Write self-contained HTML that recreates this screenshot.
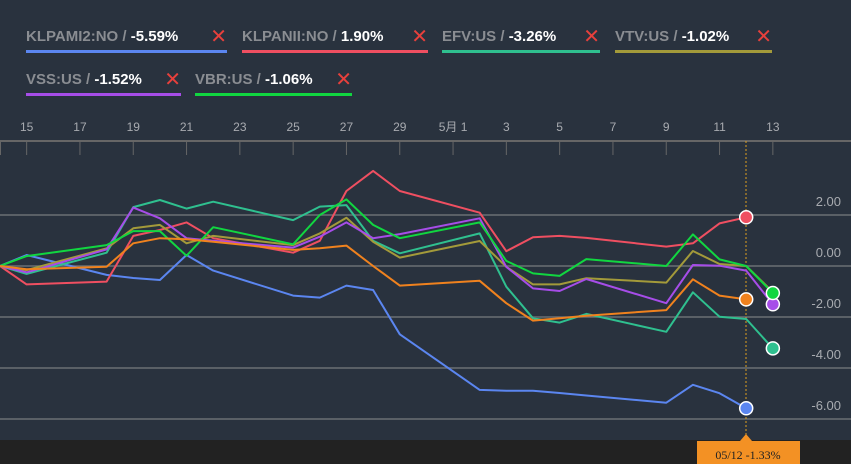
<!DOCTYPE html>
<html><head><meta charset="utf-8"><style>
body{margin:0;width:851px;height:464px;background:#29323e;overflow:hidden;font-family:"Liberation Sans",sans-serif;position:relative}
.lg{position:absolute;height:24px;font-weight:bold;font-size:15px;color:#8a8d92;white-space:nowrap;line-height:22px}
.lg b{color:#fff}
.lg .x{position:absolute;right:0;top:0;color:#e8403c;font-weight:normal;font-size:20px}
.lg .u{position:absolute;left:0;right:0;top:24px;height:3px}
</style></head><body>
<div class="lg" style="left:26px;top:26px;width:201px">KLPAMI2:NO / <b>-5.59%</b><span class="x">✕</span><div class="u" style="background:#5b86f0"></div></div>
<div class="lg" style="left:242px;top:26px;width:186px">KLPANII:NO / <b>1.90%</b><span class="x">✕</span><div class="u" style="background:#ef4f61"></div></div>
<div class="lg" style="left:442px;top:26px;width:158px">EFV:US / <b>-3.26%</b><span class="x">✕</span><div class="u" style="background:#2fc08f"></div></div>
<div class="lg" style="left:615px;top:26px;width:157px">VTV:US / <b>-1.02%</b><span class="x">✕</span><div class="u" style="background:#a39a3a"></div></div>
<div class="lg" style="left:26px;top:69px;width:155px">VSS:US / <b>-1.52%</b><span class="x">✕</span><div class="u" style="background:#a64de8"></div></div>
<div class="lg" style="left:195px;top:69px;width:157px">VBR:US / <b>-1.06%</b><span class="x">✕</span><div class="u" style="background:#11d640"></div></div>
<svg id="chart" width="851" height="464" style="position:absolute;left:0;top:0"></svg>
<script>
const days=[0,1,4,5,6,7,8,11,12,13,14,15,18,19,20,21,22,25,26,27,28,29];
const tickDays=[1,3,5,7,9,11,13,15,17,19,21,23,25,27,29];
const tickLabels=["15","17","19","21","23","25","27","29","5月 1","3","5","7","9","11","13"];
const yTicks=[2,0,-2,-4,-6];
const yTickLabels=["2.00","0.00","-2.00","-4.00","-6.00"];
const blue=[0,0.43,-0.35,-0.47,-0.55,0.43,-0.18,-1.16,-1.24,-0.77,-0.94,-2.68,-4.86,-4.89,-4.89,-4.98,-5.08,-5.36,-4.66,-4.99,-5.58];
const red=[0,-0.72,-0.61,1.18,1.41,1.71,1.09,0.52,0.99,2.94,3.73,2.94,2.09,0.58,1.13,1.18,1.1,0.76,0.89,1.67,1.91];
const teal=[0,-0.31,0.52,2.31,2.59,2.25,2.52,1.8,2.33,2.39,0.99,0.5,1.28,-0.81,-2.05,-2.22,-1.88,-2.58,-1.03,-1.99,-2.08,-3.23];
const olive=[0,-0.16,0.69,1.48,1.61,0.89,1.18,0.82,1.28,1.89,0.95,0.33,0.98,-0.03,-0.72,-0.72,-0.48,-0.65,0.59,0.08,0,-1.02];
const purple=[0,-0.25,0.65,2.29,1.87,1.09,0.99,0.72,1.15,1.71,1.09,1.25,1.87,-0.03,-0.88,-0.98,-0.51,-1.46,0.04,0.01,-0.18,-1.5];
const green=[0,0.39,0.82,1.37,1.37,0.4,1.52,0.85,2.0,2.61,1.61,1.09,1.71,0.2,-0.29,-0.39,0.27,0,1.24,0.26,0,-1.06];
const orange=[0,-0.13,-0.03,0.89,1.09,1.05,0.95,0.63,0.7,0.8,0,-0.77,-0.58,-1.46,-2.14,-2.05,-1.95,-1.73,-0.52,-1.16,-1.31];
const series=[["series-klpami2",blue,"#5b86f0",true],["series-klpanii",red,"#ef4f61",true],["series-efv",teal,"#2fc08f",true],["series-vtv",olive,"#a39a3a",false],["series-vss",purple,"#a64de8",true],["series-vbr",green,"#11d640",true],["series-orange",orange,"#f0821e",true]];
const X=d=>d*26.65;
const Y=v=>266-v*25.5;
const NS="http://www.w3.org/2000/svg";
const svg=document.getElementById('chart');
function mk(t,a){const e=document.createElementNS(NS,t);for(const k in a)e.setAttribute(k,a[k]);svg.appendChild(e);return e;}
let e=mk('rect',{x:0,y:440,width:851,height:24,fill:'#222222'});


e=mk('line',{x1:0,x2:851,y1:141,y2:141,stroke:'#666',"stroke-width":2});


tickDays.forEach((d,i)=>{
 let t=mk('line',{x1:X(d),x2:X(d),y1:141,y2:155,stroke:'#666'});
 
 
 let l=mk('text',{x:X(d),y:131,fill:'#a8abb0','font-size':12,'text-anchor':'middle','font-family':'Liberation Sans, Noto Sans CJK SC, sans-serif'});
 l.textContent=tickLabels[i];
 
 
});
let t0=mk('line',{x1:0.5,x2:0.5,y1:141,y2:155,stroke:'#666'});


yTicks.forEach((v,i)=>{
 let g=mk('line',{x1:0,x2:851,y1:Y(v),y2:Y(v),stroke:'#6b6f74','stroke-width':1.5});
 
 
 let l=mk('text',{x:841,y:Y(v)-9,fill:'#a8abb0','font-size':13,'text-anchor':'end'});
 l.textContent=yTickLabels[i];
 
 
});
e=mk('line',{x1:746,x2:746,y1:141,y2:440,stroke:'#e0a020','stroke-dasharray':'2,2'});


series.forEach(([n,vals,c,mark])=>{
 const pts=vals.map((v,i)=>X(days[i]).toFixed(1)+','+Y(v).toFixed(1)).join(' ');
 let p=mk('polyline',{points:pts,fill:'none',stroke:c,'stroke-width':2,'stroke-linejoin':'round'});
 
 
});
series.forEach(([n,vals,c,mark])=>{
 if(!mark)return;
 const i=vals.length-1;
 let m=mk('circle',{cx:X(days[i]),cy:Y(vals[i]),r:6.5,fill:c,stroke:'#fff','stroke-width':1.5});
 
 
});
e=mk('polygon',{points:'740,441 752,441 746,434',fill:'#f39124'});


e=mk('rect',{x:697,y:441,width:103,height:23,fill:'#f39124'});


e=mk('text',{x:748,y:459,fill:'#222','font-size':12,'text-anchor':'middle','font-family':'Liberation Serif, serif'});
e.textContent='05/12  -1.33%';
e.setAttribute('xml:space','preserve');


</script>
</body></html>
